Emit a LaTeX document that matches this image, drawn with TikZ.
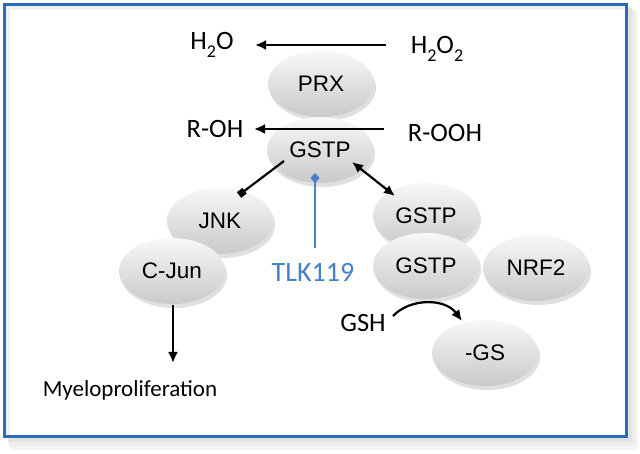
\documentclass[tikz,border=0pt]{standalone}
\usepackage{fontspec}
\setmainfont{Carlito}
\newfontfamily\arialf{Liberation Sans}
\usetikzlibrary{shapes.geometric,arrows.meta,shadows}
\definecolor{frameblue}{RGB}{40,108,190}
\definecolor{tlkblue}{RGB}{70,128,200}
\tikzset{
  blob/.style={ellipse, minimum width=106pt, minimum height=66pt, inner sep=0pt,
    top color=gray!6, bottom color=gray!42, draw=none,
    drop shadow={shadow xshift=2pt, shadow yshift=-4pt, opacity=0.3, fill=gray!80},
    font=\arialf\fontsize{22.5}{26}\selectfont},
  lbl/.style={inner sep=0pt, font=\fontsize{26.5}{30}\selectfont},
  arr/.style={line width=2.2pt, -{Latex[length=11pt,width=10pt]}},
}
\newcommand{\subtwo}{\raisebox{-0.28em}{\fontsize{18}{18}\selectfont 2}}
\begin{document}
\begin{tikzpicture}[x=1pt,y=-1pt]
\useasboundingbox (0,0) rectangle (640,454);
% frame shadow
\fill[gray!8] (10,12) rectangle (638,450);
\fill[gray!14] (9,10) rectangle (635,446);
\fill[gray!22] (8,8) rectangle (632,442);
\fill[white] (4,4) rectangle (627,437);
\fill[gray!12] (6,6) rectangle (625,10);
\fill[gray!12] (6,6) rectangle (10,435);
\fill[white] (10,10) rectangle (625,435);
\draw[frameblue, line width=3.6pt] (4.5,4.5) rectangle (626.5,436.5);
% ellipses
\node[blob] (prx) at (321,84) {PRX};
\node[blob] (gstpa) at (320,150) {GSTP};
\node[blob] (jnk) at (220,221) {JNK};
\node[blob] (cjun) at (172,271) {C-Jun};
\node[blob] (gstpb) at (426,216) {GSTP};
\node[blob] (gstpc) at (426,266) {GSTP};
\node[blob] (nrf) at (536,268) {NRF2};
\node[blob] (gs) at (485,353) {-GS};
% labels
\node[lbl] (h2o) at (212,45) {H\subtwo O};
\node[lbl] (h2o2) at (437,49) {H\subtwo O\subtwo};
\node[lbl] (roh) at (215,129) {R-OH};
\node[lbl] (rooh) at (445,133) {R-OOH};
\node[lbl] (gsh) at (363,323) {GSH};
\node[lbl, text=tlkblue, font=\fontsize{28}{32}\selectfont] (tlk) at (313,272) {TLK119};
\node[inner sep=0pt, font=\fontsize{23}{27}\selectfont] (myelo) at (130,390) {Myeloproliferation};
% connector ends
\coordinate (a1s) at (386,45);
\coordinate (a1e) at (255,45);
\coordinate (a2s) at (384,129);
\coordinate (a2e) at (254,129);
\coordinate (js) at (284,161);
\coordinate (je) at (239,195);
\coordinate (ds) at (352,162);
\coordinate (de) at (395,196);
\coordinate (ts) at (315,248);
\coordinate (te) at (315,173);
\coordinate (cs) at (173,305);
\coordinate (ce) at (173,363);
\coordinate (gs1) at (393,316);
\coordinate (gs2) at (462,321);
% connectors
\draw[arr] (a1s) -- (a1e);
\draw[arr] (a2s) -- (a2e);
\draw[line width=2.2pt, -{Square[length=7pt,width=7pt]}] (js) -- (je);
\draw[line width=2.2pt, {Latex[length=11pt,width=10pt]}-{Latex[length=11pt,width=10pt]}] (ds) -- (de);
\draw[tlkblue, line width=2.2pt, -{Diamond[length=10pt,width=9pt]}] (ts) -- (te);
\draw[arr] (cs) -- (ce);
\draw[arr] (gs1) .. controls (410,298) and (445,298) .. (gs2);
\end{tikzpicture}
\end{document}
